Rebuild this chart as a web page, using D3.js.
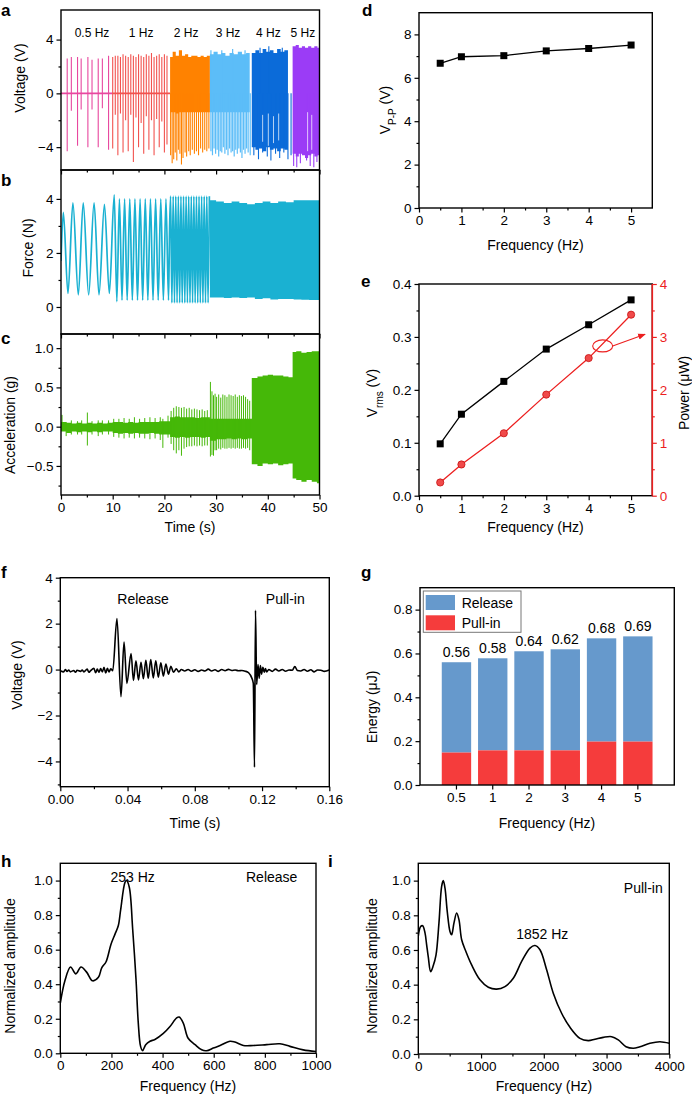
<!DOCTYPE html>
<html>
<head>
<meta charset="utf-8">
<script src="https://cdn.jsdelivr.net/npm/d3@7"></script>
<style>
  body { margin: 0; background: #fff; }
</style>
</head>
<body>
<div id="chart"></div>
<script>
const font = '"Liberation Sans", Arial, Helvetica, sans-serif'

// ---- a: voltage vs time, one colour per drive frequency ----
const freqLabels = ['0.5 Hz', '1 Hz', '2 Hz', '3 Hz', '4 Hz', '5 Hz']
const freqLabelTimes = [6.0, 15.5, 24.2, 32.3, 40.1, 46.8]
const segColors = ['#e8489f', '#f2534f', '#ff8200', '#5cbdf8', '#0b6bd9', '#9b3cf6']
const zeroLines = [[0, 9.9], [9.9, 21.1]]
// spikes: [t, top, bottom]
const voltSpikes05 = [[1.2, 2.6, -4.3], [2.0, 2.7, -1.3], [3.2, 2.7, -3.9], [3.9, 2.6, -1.2], [5.2, 2.7, -4.0],
  [6.0, 2.5, -1.2], [7.2, 2.6, -4.0], [8.0, 2.6, -1.1], [9.2, 2.8, -4.2]]
const voltSpikes1 = [[10.0, 2.7, -4.1], [10.5, 2.8, -1.6], [11.0, 2.8, -4.6], [11.5, 2.7, -1.5], [12.0, 2.9, -4.4],
  [12.5, 2.8, -2.0], [13.0, 2.7, -4.3], [13.5, 2.9, -1.6], [14.0, 2.8, -5.1], [14.5, 2.7, -1.8], [15.0, 2.9, -4.0],
  [15.5, 2.8, -2.2], [16.0, 2.7, -4.5], [16.5, 2.9, -1.7], [17.0, 2.8, -4.2], [17.5, 3.0, -2.0], [18.0, 2.7, -4.6],
  [18.5, 2.8, -1.9], [19.0, 2.9, -4.0], [19.5, 2.7, -2.1], [20.0, 2.9, -4.4], [20.5, 2.8, -3.8]]
// dense segments: band [t, top, bottom] plus spikes reaching past it
const voltBand2 = [[21.1, 2.7, -1.4], [21.6, 3.1, -1.4], [22.2, 2.8, -1.5], [22.8, 3.2, -1.4], [23.4, 2.8, -1.4],
  [24.0, 2.9, -1.4], [24.6, 2.7, -1.4], [25.2, 2.8, -1.4], [25.8, 2.8, -1.4], [26.4, 2.7, -1.4], [27.0, 2.8, -1.4],
  [27.6, 2.7, -1.4], [28.2, 2.8, -1.4], [28.8, 2.8, -1.4]]
const voltSpikes2 = [[21.2, 0, -4.6], [21.5, 0, -5.2], [21.8, 0, -4.9], [22.1, 0, -4.4], [22.4, 0, -5.0], [22.7, 0, -4.2],
  [23.0, 0, -4.5], [23.3, 0, -5.3], [23.6, 0, -4.8], [24.0, 0, -4.4], [24.3, 0, -4.7], [24.7, 0, -4.3], [25.0, 0, -4.6],
  [25.4, 0, -4.2], [25.8, 0, -4.5], [26.2, 0, -4.3], [26.6, 0, -4.6], [27.0, 0, -4.1], [27.4, 0, -4.4], [27.8, 0, -4.2],
  [28.2, 0, -4.3], [28.6, 0, -4.1]]
const voltBand3 = [[28.8, 2.9, -1.4], [29.5, 3.1, -1.4], [30.3, 2.9, -1.4], [31.0, 3.0, -1.4], [31.8, 2.8, -1.4],
  [32.6, 3.0, -1.4], [33.4, 2.9, -1.4], [34.2, 3.1, -1.4], [35.0, 2.9, -1.4], [35.8, 3.0, -1.4], [36.5, 2.9, -1.4]]
const voltSpikes3 = [[29.0, 3.2, -4.3], [29.3, 0, -4.6], [29.6, 0, -4.1], [29.9, 0, -4.5], [30.2, 0, -4.2],
  [30.5, 0, -4.7], [30.8, 0, -4.3], [31.1, 3.2, -4.4], [31.4, 0, -4.0], [31.7, 0, -4.5], [32.0, 0, -4.2],
  [32.3, 0, -4.6], [32.6, 0, -4.1], [32.9, 0, -4.4], [33.2, 3.3, -4.3], [33.5, 0, -4.7], [33.8, 0, -4.2],
  [34.1, 0, -4.5], [34.4, 0, -4.1], [34.7, 0, -4.4], [35.0, 0, -4.8], [35.3, 0, -4.2], [35.6, 3.2, -4.5],
  [35.9, 0, -4.1], [36.2, 0, -4.4], [36.6, 0, -4.6]]
const voltBand4 = [[36.9, 3.0, -4.0], [37.6, 3.2, -4.2], [38.3, 3.0, -4.1], [39.0, 3.3, -4.3], [39.7, 3.1, -4.0],
  [40.4, 3.2, -4.2], [41.1, 3.0, -4.1], [41.8, 3.3, -4.3], [42.5, 3.1, -4.1], [43.2, 3.2, -4.2], [43.9, 3.1, -4.3]]
const voltSpikes4 = [[37.3, 0, -4.6], [38.2, 0, -4.9], [38.5, 3.4, 0], [39.0, 0, -4.4], [39.9, 0, -4.7],
  [40.2, 3.5, 0], [40.6, 0, -5.0], [41.5, 0, -4.5], [42.3, 0, -4.8], [42.8, 3.4, 0], [43.1, 0, -4.4],
  [43.9, 0, -4.9], [44.5, 0, -4.6]]
const voltGaps4 = [[39.0, -1.6, -3.6], [40.1, -1.5, -3.9], [41.1, -1.7, -3.7], [42.1, -1.5, -3.5]]
const voltBand5 = [[44.8, 3.5, -4.5], [45.4, 3.6, -4.7], [46.0, 3.4, -4.5], [46.6, 3.5, -4.6], [47.2, 3.4, -4.8],
  [47.8, 3.5, -4.6], [48.4, 3.4, -4.5], [49.0, 3.5, -4.7], [49.6, 3.4, -4.6], [50, 3.4, -4.6]]
const voltSpikes5 = [[45.0, 0, -5.4], [45.6, 0, -5.5], [46.3, 0, -5.2], [47.5, 0, -5.0], [48.2, 0, -5.4],
  [48.9, 0, -5.5], [49.5, 0, -5.1]]
const voltGaps5 = [[47.7, -1.4, -4.3], [48.5, -1.6, -4.2]]

// ---- b: force extrema (t, N) up to 2 Hz, then a band ----
const forceLow = [[0, 1.7], [0.45, 3.5], [1.35, 0.5], [2.3, 3.85], [3.35, 0.45], [4.3, 3.85], [5.35, 0.45],
  [6.4, 3.85], [7.35, 0.45], [8.4, 3.8], [9.35, 0.5], [10.3, 4.15], [10.8, 0.2], [11.3, 4.0], [11.8, 0.25],
  [12.3, 4.0], [12.8, 0.25], [13.3, 4.0], [13.8, 0.25], [14.3, 4.0], [14.8, 0.25], [15.3, 4.0], [15.8, 0.25],
  [16.3, 4.0], [16.8, 0.25], [17.3, 4.0], [17.8, 0.25], [18.3, 4.0], [18.8, 0.25], [19.3, 4.0], [19.8, 0.25],
  [20.3, 4.0], [20.8, 0.25]]
const force2Hz = [[21.0, 2.9], [21.2, 4.1], [21.45, 0.15], [21.7, 4.1], [21.95, 0.15], [22.2, 4.1], [22.45, 0.15],
  [22.7, 4.1], [22.95, 0.15], [23.2, 4.1], [23.45, 0.15], [23.7, 4.1], [23.95, 0.15], [24.2, 4.1], [24.45, 0.15],
  [24.7, 4.1], [24.95, 0.15], [25.2, 4.1], [25.45, 0.15], [25.7, 4.1], [25.95, 0.15], [26.2, 4.1], [26.45, 0.15],
  [26.7, 4.1], [26.95, 0.15], [27.2, 4.1], [27.45, 0.15], [27.7, 4.1], [27.95, 0.15], [28.2, 4.1], [28.45, 0.15],
  [28.7, 4.1]]
const forceBand = [[28.8, 3.95, 0.35], [30.0, 3.9, 0.35], [31.5, 3.85, 0.33], [33.0, 3.9, 0.35], [34.5, 3.85, 0.33],
  [36.0, 3.8, 0.35], [37.5, 3.85, 0.3], [39.0, 3.9, 0.32], [40.5, 3.85, 0.28], [42.0, 3.9, 0.3], [43.5, 3.88, 0.3],
  [45.0, 3.95, 0.28], [46.5, 3.95, 0.27], [48.0, 3.95, 0.26], [50, 3.95, 0.25]]

// ---- c: acceleration band [t, top, bottom] and spikes ----
const accelBand = [[0, 0.06, -0.06], [1, 0.05, -0.08], [2, 0.04, -0.06], [3, 0.05, -0.07], [4, 0.04, -0.06],
  [5, 0.05, -0.07], [6, 0.04, -0.06], [7, 0.05, -0.07], [8, 0.04, -0.06], [9, 0.05, -0.06], [10, 0.06, -0.08],
  [11, 0.06, -0.09], [12, 0.05, -0.08], [13, 0.06, -0.09], [14, 0.05, -0.08], [15, 0.06, -0.09], [16, 0.06, -0.09],
  [17, 0.06, -0.08], [18, 0.06, -0.09], [19, 0.07, -0.1], [20, 0.07, -0.1], [21.1, 0.12, -0.13], [22, 0.13, -0.14],
  [23, 0.12, -0.13], [24, 0.12, -0.14], [25, 0.12, -0.13], [26, 0.11, -0.13], [27, 0.12, -0.14], [28, 0.12, -0.13],
  [28.8, 0.1, -0.18], [30, 0.1, -0.16], [31, 0.1, -0.16], [32, 0.1, -0.15], [33, 0.1, -0.16], [34, 0.1, -0.15],
  [35, 0.1, -0.16], [36, 0.1, -0.15], [36.9, 0.62, -0.48], [38, 0.64, -0.5], [39, 0.65, -0.47], [40, 0.66, -0.48],
  [41, 0.65, -0.47], [42, 0.65, -0.49], [43, 0.64, -0.48], [44, 0.63, -0.47], [44.8, 0.95, -0.66],
  [45.5, 0.96, -0.68], [46.5, 0.94, -0.7], [47.5, 0.95, -0.68], [48.5, 0.96, -0.7], [49.5, 0.96, -0.72],
  [50, 0.96, -0.72]]
const accelSpikes = [[0.2, 0.15, -0.05], [1.0, 0.06, -0.12], [2.0, 0.08, -0.1], [3.2, 0.07, -0.1], [4.0, 0.08, -0.1],
  [5.1, 0.18, -0.24], [6.0, 0.07, -0.1], [7.2, 0.08, -0.12], [8.0, 0.08, -0.1], [9.2, 0.08, -0.1],
  [10.2, 0.1, -0.13], [11.2, 0.1, -0.14], [12.2, 0.11, -0.15], [13.2, 0.1, -0.14], [14.2, 0.12, -0.15],
  [15.2, 0.1, -0.14], [16.2, 0.11, -0.15], [17.2, 0.12, -0.16], [18.2, 0.11, -0.15], [19.2, 0.12, -0.17],
  [19.7, 0.1, -0.27], [20.7, 0.14, -0.14], [21.3, 0.2, -0.22], [21.8, 0.24, -0.3], [22.3, 0.26, -0.34],
  [22.8, 0.25, -0.3], [23.3, 0.24, -0.37], [23.8, 0.25, -0.28], [24.3, 0.23, -0.26], [24.8, 0.24, -0.25],
  [25.3, 0.22, -0.25], [25.8, 0.23, -0.24], [26.3, 0.22, -0.25], [26.8, 0.21, -0.24], [27.3, 0.22, -0.25],
  [27.8, 0.2, -0.24], [28.3, 0.21, -0.24], [28.9, 0.57, -0.38], [29.2, 0.45, -0.36], [29.5, 0.4, -0.37],
  [29.8, 0.42, -0.3], [30.1, 0.38, -0.3], [30.5, 0.41, -0.28], [30.9, 0.37, -0.29], [31.3, 0.41, -0.27],
  [31.7, 0.4, -0.28], [32.1, 0.38, -0.28], [32.5, 0.41, -0.27], [32.9, 0.4, -0.28], [33.3, 0.39, -0.27],
  [33.7, 0.41, -0.28], [34.1, 0.38, -0.27], [34.5, 0.4, -0.28], [34.9, 0.39, -0.28], [35.3, 0.4, -0.27],
  [35.7, 0.38, -0.28], [36.1, 0.35, -0.27], [36.5, 0.33, -0.3]]

// ---- d, e ----
const freqs = [0.5, 1, 2, 3, 4, 5]
const vpp = [6.67, 6.97, 7.02, 7.24, 7.35, 7.51]
const vrms = [0.098, 0.154, 0.216, 0.277, 0.323, 0.370]
const power = [0.25, 0.59, 1.18, 1.91, 2.6, 3.42]

// ---- f: single cycle voltage (s, V) ----
const cycleTrace = [[0, -0.05], [0.002, -0.1], [0.003, 0.0], [0.004, -0.08], [0.005, -0.02], [0.006, -0.1],
  [0.008, -0.04], [0.009, -0.12], [0.010, -0.03], [0.012, -0.08], [0.013, -0.02], [0.014, -0.1], [0.016, 0.02],
  [0.017, -0.12], [0.018, -0.05], [0.020, 0.05], [0.021, -0.14], [0.022, 0.02], [0.023, -0.12], [0.024, 0.04],
  [0.025, -0.1], [0.026, 0.1], [0.027, -0.15], [0.028, 0.05], [0.029, -0.1], [0.030, 0.03], [0.0312, -0.05],
  [0.0337, 2.22], [0.0361, -1.18], [0.0379, 1.2], [0.0396, -0.6], [0.0421, 0.7], [0.0435, -0.47], [0.045, 0.38],
  [0.0465, -0.45], [0.048, 0.32], [0.0494, -0.4], [0.0509, 0.4], [0.0523, -0.38], [0.0538, 0.44], [0.0553, -0.36],
  [0.0568, 0.38], [0.0583, -0.33], [0.0598, 0.3], [0.0613, -0.28], [0.0628, 0.24], [0.0643, -0.2], [0.0658, 0.14],
  [0.0673, -0.12], [0.069, 0.03], [0.0705, -0.1], [0.072, 0.0], [0.074, -0.06], [0.076, 0.0], [0.078, -0.07],
  [0.080, -0.01], [0.082, -0.08], [0.084, -0.02], [0.086, -0.06], [0.088, 0.02], [0.090, -0.06], [0.092, -0.01],
  [0.094, -0.08], [0.096, 0.0], [0.098, -0.05], [0.100, 0.01], [0.102, -0.04], [0.104, -0.02], [0.106, -0.05],
  [0.108, -0.04], [0.110, -0.07], [0.112, -0.14], [0.1138, -0.35], [0.1148, -0.6], [0.1155, -4.25], [0.1161, 2.58],
  [0.1168, -0.65], [0.1176, 0.22], [0.1183, -0.38], [0.119, 0.18], [0.1197, -0.2], [0.1205, 0.1], [0.1213, -0.12],
  [0.122, 0.04], [0.1228, -0.1], [0.124, 0.0], [0.126, -0.08], [0.128, 0.02], [0.130, -0.06], [0.132, 0.0],
  [0.134, -0.07], [0.136, -0.02], [0.138, -0.03], [0.1395, 0.13], [0.141, -0.04], [0.143, -0.06], [0.145, 0.0],
  [0.147, -0.07], [0.149, -0.01], [0.151, -0.1], [0.153, -0.02], [0.155, -0.03], [0.157, -0.08], [0.16, -0.02]]

// ---- g: energy per cycle ----
const freqCats = ['0.5', '1', '2', '3', '4', '5']
const energyTotal = [0.56, 0.578, 0.61, 0.619, 0.669, 0.678]
const energyPull = [0.148, 0.158, 0.158, 0.158, 0.198, 0.198]
const energyLabels = ['0.56', '0.58', '0.64', '0.62', '0.68', '0.69']

// ---- h, i: spectra (Hz, normalized) ----
const releaseSpectrum = [[0, 0.29], [18, 0.42], [40, 0.5], [61, 0.46], [81, 0.5], [103, 0.47], [126, 0.42],
  [149, 0.44], [162, 0.495], [179, 0.53], [198, 0.63], [214, 0.69], [227, 0.74], [236, 0.83], [253, 0.99],
  [259, 1.0], [270, 0.96], [283, 0.72], [296, 0.43], [305, 0.175], [314, 0.04], [322, 0.015], [334, 0.05],
  [351, 0.07], [370, 0.08], [403, 0.115], [429, 0.155], [455, 0.205], [465, 0.21], [481, 0.175], [500, 0.087],
  [527, 0.05], [553, 0.02], [572, 0.015], [598, 0.03], [625, 0.045], [664, 0.07], [683, 0.065], [716, 0.045],
  [755, 0.045], [807, 0.05], [859, 0.055], [898, 0.04], [950, 0.02], [1000, 0.01]]
const pullSpectrum = [[0, 0.68], [37, 0.735], [69, 0.74], [106, 0.7], [133, 0.63], [159, 0.56], [197, 0.475],
  [239, 0.51], [282, 0.57], [329, 0.755], [372, 0.967], [398, 1.0], [425, 0.958], [462, 0.82], [505, 0.707],
  [531, 0.688], [568, 0.755], [611, 0.813], [648, 0.775], [691, 0.659], [760, 0.59], [850, 0.514], [983, 0.428],
  [1116, 0.385], [1248, 0.374], [1381, 0.389], [1514, 0.437], [1647, 0.534], [1780, 0.611], [1859, 0.626],
  [1939, 0.601], [2045, 0.486], [2151, 0.351], [2284, 0.235], [2417, 0.154], [2576, 0.09], [2709, 0.077],
  [2815, 0.085], [2948, 0.096], [3081, 0.1], [3187, 0.081], [3310, 0.042], [3426, 0.033], [3533, 0.042],
  [3692, 0.062], [3851, 0.071], [4000, 0.062]]

const svg = d3.select('#chart').append('svg')
  .attr('width', 692).attr('height', 1101)
  .style('font-family', font)

const frame = (x, y, color = '#000') => svg.append('rect')
  .attr('x', x.range()[0]).attr('y', y.range()[1])
  .attr('width', x.range()[1] - x.range()[0]).attr('height', y.range()[0] - y.range()[1])
  .attr('fill', 'none').attr('stroke', color).attr('stroke-width', 1.4)

let clipCount = 0
const clipped = (x, y) => {
  const id = `clip-${clipCount++}`
  svg.append('clipPath').attr('id', id).append('rect')
    .attr('x', x.range()[0]).attr('y', y.range()[1])
    .attr('width', x.range()[1] - x.range()[0]).attr('height', y.range()[0] - y.range()[1])
  return svg.append('g').attr('clip-path', `url(#${id})`)
}

const axis = (gen, scale, at, majors, minors, fmt, color = '#000') => {
  const g = svg.append('g').attr('transform', at)
  if (minors) {
    g.append('g').call(gen(scale).tickValues(minors).tickSize(2.5).tickSizeOuter(0).tickFormat(() => ''))
  }
  g.append('g').call(gen(scale).tickValues(majors).tickSize(4.5).tickSizeOuter(0).tickPadding(3).tickFormat(fmt))
  g.selectAll('.domain').remove()
  g.selectAll('line').attr('stroke', color).attr('stroke-width', 1.2)
  g.selectAll('text').attr('fill', color).style('font-size', '13.5px').style('font-family', font)
  return g
}
const bottomAxis = (x, y, majors, minors, fmt) =>
  axis(d3.axisBottom, x, `translate(0,${y.range()[0]})`, majors, minors, fmt)
const leftAxis = (x, y, majors, minors, fmt) =>
  axis(d3.axisLeft, y, `translate(${x.range()[0]},0)`, majors, minors, fmt)

const xTitle = (text, cx, y) => svg.append('text')
  .attr('x', cx).attr('y', y).attr('text-anchor', 'middle')
  .style('font-size', '14px').style('font-weight', 'normal').text(text)
const yTitle = (cx, cy) => svg.append('text')
  .attr('transform', `translate(${cx},${cy}) rotate(-90)`)
  .attr('text-anchor', 'middle').attr('dy', '0.35em')
  .style('font-size', '14px').style('font-weight', 'normal')
const letter = (t, x, y) => svg.append('text')
  .attr('x', x).attr('y', y).style('font-size', '17px').style('font-weight', 'bold').text(t)
const note = (t, x, y, size = 14) => svg.append('text')
  .attr('x', x).attr('y', y).attr('text-anchor', 'middle').style('font-size', `${size}px`).text(t)

const spikes = (g, list, x, y, color, width = 1.1) => g.append('g').selectAll('line').data(list).join('line')
  .attr('x1', d => x(d[0])).attr('x2', d => x(d[0]))
  .attr('y1', d => y(d[1])).attr('y2', d => y(d[2]))
  .attr('stroke', color).attr('stroke-width', width)
const band = (g, list, x, y, color) => g.append('path').datum(list)
  .attr('fill', color)
  .attr('d', d3.area().curve(d3.curveStepAfter)
    .x(d => x(d[0])).y0(d => y(d[2])).y1(d => y(d[1])))

// ================= a, b, c =================
const tX = d3.scaleLinear().domain([0, 50]).range([61, 319.5])
const timeMajor = [0, 10, 20, 30, 40, 50]
const timeMinor = [5, 15, 25, 35, 45]
const aY = d3.scaleLinear().domain([-5.7, 6.2]).range([170, 10])
const bY = d3.scaleLinear().domain([-1, 5.07]).range([334, 170])
const cY = d3.scaleLinear().domain([-0.87, 1.18]).range([495, 334])

const aG = clipped(tX, aY)
zeroLines.forEach((z, i) => {
  aG.append('line').attr('x1', tX(z[0])).attr('x2', tX(z[1]))
    .attr('y1', aY(0)).attr('y2', aY(0))
    .attr('stroke', segColors[i]).attr('stroke-width', 1.6)
})
spikes(aG, voltSpikes05, tX, aY, segColors[0])
spikes(aG, voltSpikes1, tX, aY, segColors[1])
band(aG, voltBand2, tX, aY, segColors[2])
spikes(aG, voltSpikes2, tX, aY, segColors[2])
band(aG, voltBand3, tX, aY, segColors[3])
spikes(aG, voltSpikes3, tX, aY, segColors[3], 1.2)
band(aG, voltBand4, tX, aY, segColors[4])
spikes(aG, voltSpikes4, tX, aY, segColors[4])
spikes(aG, voltGaps4, tX, aY, '#fff', 0.7)
band(aG, voltBand5, tX, aY, segColors[5])
spikes(aG, voltSpikes5, tX, aY, segColors[5])
spikes(aG, voltGaps5, tX, aY, '#fff', 0.7)
freqLabels.forEach((l, i) => note(l, tX(freqLabelTimes[i]), 37, 12))

const bG = clipped(tX, bY)
bG.append('path').datum(forceLow.concat(force2Hz))
  .attr('fill', 'none').attr('stroke', '#1ab1d2').attr('stroke-width', 1.7)
  .attr('d', d3.line().curve(d3.curveMonotoneX).x(d => tX(d[0])).y(d => bY(d[1])))
band(bG, forceBand, tX, bY, '#1ab1d2')

const cG = clipped(tX, cY)
band(cG, accelBand, tX, cY, '#45b808')
spikes(cG, accelSpikes, tX, cY, '#45b808', 1)

;[[aY, [-4, 0, 4], [-2, 2], d3.format('d')], [bY, [0, 2, 4], [1, 3], d3.format('d')],
  [cY, [-0.5, 0, 0.5, 1], [-0.75, -0.25, 0.25, 0.75], d3.format('.1f')]].forEach(([y, maj, min, f], i) => {
  leftAxis(tX, y, maj, min, f)
  bottomAxis(tX, y, timeMajor, timeMinor, i === 2 ? d3.format('d') : () => '')
  frame(tX, y)
})
yTitle(20, 78).text('Voltage (V)')
yTitle(28, 248).text('Force (N)')
yTitle(10, 425).text('Acceleration (g)')
xTitle('Time (s)', 190, 532)
letter('a', 1, 16)
letter('b', 1, 186)
letter('c', 1, 344)

// ================= d =================
const fX = d3.scaleLinear().domain([0, 5.5]).range([419, 652.3])
const freqMajor = [0, 1, 2, 3, 4, 5]
const freqMinor = [0.5, 1.5, 2.5, 3.5, 4.5]
const dY = d3.scaleLinear().domain([0, 9]).range([208, 12.7])
const lineOf = (x, y, vals) => d3.line().x((d, i) => x(freqs[i])).y(d => y(d))(vals)

svg.append('path').attr('d', lineOf(fX, dY, vpp))
  .attr('fill', 'none').attr('stroke', '#000').attr('stroke-width', 1.3)
svg.append('g').selectAll('rect').data(vpp).join('rect')
  .attr('x', (d, i) => fX(freqs[i]) - 3.5).attr('y', d => dY(d) - 3.5)
  .attr('width', 7).attr('height', 7).attr('fill', '#000')
leftAxis(fX, dY, [0, 2, 4, 6, 8], [1, 3, 5, 7], d3.format('d'))
bottomAxis(fX, dY, freqMajor, freqMinor, d3.format('d'))
frame(fX, dY)
const dLabel = yTitle(385, 110)
dLabel.append('tspan').text('V')
dLabel.append('tspan').attr('baseline-shift', 'sub').style('font-size', '10px').text('P-P')
dLabel.append('tspan').text(' (V)')
xTitle('Frequency (Hz)', 535.5, 250)
letter('d', 362, 16)

// ================= e =================
const eY = d3.scaleLinear().domain([0, 0.4]).range([495.7, 284])
const eYR = d3.scaleLinear().domain([0, 4]).range([495.7, 284])
const red = '#ec1f1f'

svg.append('path').attr('d', lineOf(fX, eY, vrms))
  .attr('fill', 'none').attr('stroke', '#000').attr('stroke-width', 1.3)
svg.append('g').selectAll('rect').data(vrms).join('rect')
  .attr('x', (d, i) => fX(freqs[i]) - 3.5).attr('y', d => eY(d) - 3.5)
  .attr('width', 7).attr('height', 7).attr('fill', '#000')
svg.append('path').attr('d', lineOf(fX, eYR, power))
  .attr('fill', 'none').attr('stroke', red).attr('stroke-width', 1.3)
svg.append('g').selectAll('circle').data(power).join('circle')
  .attr('cx', (d, i) => fX(freqs[i])).attr('cy', d => eYR(d)).attr('r', 3.6)
  .attr('fill', '#f04a4a').attr('stroke', '#c81010').attr('stroke-width', 0.8)

// ellipse + arrow pointing to the right axis
const defs = svg.append('defs')
defs.append('marker').attr('id', 'arrow').attr('viewBox', '0 0 10 10')
  .attr('refX', 9).attr('refY', 5).attr('markerWidth', 7).attr('markerHeight', 7)
  .attr('orient', 'auto-start-reverse')
  .append('path').attr('d', 'M0,1 L10,5 L0,9 z').attr('fill', red)
const ellX = fX(4.33)
const ellY = eYR(2.83)
svg.append('ellipse').attr('cx', ellX).attr('cy', ellY).attr('rx', 10).attr('ry', 6)
  .attr('fill', 'none').attr('stroke', red).attr('stroke-width', 1.1)
svg.append('line').attr('x1', ellX + 10).attr('y1', ellY)
  .attr('x2', fX(5.33)).attr('y2', eYR(3.05))
  .attr('stroke', red).attr('stroke-width', 1.1).attr('marker-end', 'url(#arrow)')

leftAxis(fX, eY, [0, 0.1, 0.2, 0.3, 0.4], [0.05, 0.15, 0.25, 0.35], d3.format('.1f'))
bottomAxis(fX, eY, freqMajor, freqMinor, d3.format('d'))
frame(fX, eY)
axis(d3.axisRight, eYR, `translate(${fX.range()[1]},0)`, [0, 1, 2, 3, 4], [0.5, 1.5, 2.5, 3.5], d3.format('d'), red)
svg.append('line').attr('x1', fX.range()[1]).attr('x2', fX.range()[1])
  .attr('y1', 284).attr('y2', 495.7).attr('stroke', red).attr('stroke-width', 1.6)
const eLabel = yTitle(372, 393)
eLabel.append('tspan').text('V')
eLabel.append('tspan').attr('baseline-shift', 'sub').style('font-size', '10px').text('rms')
eLabel.append('tspan').text(' (V)')
yTitle(684, 393).text('Power (μW)')
xTitle('Frequency (Hz)', 535.5, 532)
letter('e', 361, 287)

// ================= f =================
const sX = d3.scaleLinear().domain([0, 0.16]).range([60.3, 329.3])
const fY = d3.scaleLinear().domain([-5.1, 4]).range([786.7, 577.7])
const fG = clipped(sX, fY)
fG.append('path').datum(cycleTrace)
  .attr('fill', 'none').attr('stroke', '#000').attr('stroke-width', 1.6)
  .attr('d', d3.line().curve(d3.curveMonotoneX).x(d => sX(d[0])).y(d => fY(d[1])))
leftAxis(sX, fY, [-4, -2, 0, 2, 4], [-5, -3, -1, 1, 3], d3.format('d'))
bottomAxis(sX, fY, [0, 0.04, 0.08, 0.12, 0.16], [0.02, 0.06, 0.1, 0.14], d3.format('.2f'))
frame(sX, fY)
note('Release', 143, 604)
note('Pull-in', 285.3, 604)
yTitle(17, 675).text('Voltage (V)')
xTitle('Time (s)', 195, 828)
letter('f', 1, 578)

// ================= g =================
const gX = d3.scaleBand().domain(freqCats).range([420, 674.3]).paddingInner(0.19).paddingOuter(0.6)
const gY = d3.scaleLinear().domain([0, 0.9]).range([785, 587.7])
const releaseBlue = '#6699cc'
const pullRed = '#f53c3c'
svg.append('g').selectAll('rect').data(energyTotal).join('rect')
  .attr('x', (d, i) => gX(freqCats[i])).attr('width', gX.bandwidth())
  .attr('y', d => gY(d)).attr('height', (d, i) => gY(energyPull[i]) - gY(d))
  .attr('fill', releaseBlue)
svg.append('g').selectAll('rect').data(energyPull).join('rect')
  .attr('x', (d, i) => gX(freqCats[i])).attr('width', gX.bandwidth())
  .attr('y', d => gY(d)).attr('height', d => gY(0) - gY(d))
  .attr('fill', pullRed)
svg.append('g').selectAll('text').data(energyLabels).join('text')
  .attr('x', (d, i) => gX(freqCats[i]) + gX.bandwidth() / 2)
  .attr('y', (d, i) => gY(energyTotal[i]) - 5)
  .attr('text-anchor', 'middle').style('font-size', '14px').text(d => d)
leftAxis(gX, gY, [0, 0.2, 0.4, 0.6, 0.8], [0.1, 0.3, 0.5, 0.7], d3.format('.1f'))
axis(d3.axisBottom, gX, `translate(0,${gY.range()[0]})`, freqCats, null, d => d)
frame(gX, gY)

const legend = svg.append('g')
legend.append('rect').attr('x', 423.3).attr('y', 591).attr('width', 97.7).attr('height', 41.3)
  .attr('fill', '#fff').attr('stroke', '#777').attr('stroke-width', 1)
;[['Release', releaseBlue], ['Pull-in', pullRed]].forEach(([name, c], i) => {
  legend.append('rect').attr('x', 425.7).attr('y', 595 + i * 20.3).attr('width', 29.3).attr('height', 15)
    .attr('fill', c)
  legend.append('text').attr('x', 461.7).attr('y', 608 + i * 20)
    .style('font-size', '14px').text(name)
})
yTitle(372, 707).text('Energy (μJ)')
xTitle('Frequency (Hz)', 547, 828)
letter('g', 361, 578)

// ================= h, i =================
const spectrum = (data, x, y, majors, minors) => {
  const g = clipped(x, y)
  g.append('path').datum(data)
    .attr('fill', 'none').attr('stroke', '#000').attr('stroke-width', 1.6)
    .attr('d', d3.line().curve(d3.curveCatmullRom.alpha(0.5)).x(d => x(d[0])).y(d => y(d[1])))
  leftAxis(x, y, [0, 0.2, 0.4, 0.6, 0.8, 1.0], [0.1, 0.3, 0.5, 0.7, 0.9], d3.format('.1f'))
  bottomAxis(x, y, majors, minors, d3.format('d'))
  frame(x, y)
}
const hX = d3.scaleLinear().domain([0, 1000]).range([60.3, 316])
const hY = d3.scaleLinear().domain([0, 1.1]).range([1053.3, 863.3])
spectrum(releaseSpectrum, hX, hY, [0, 200, 400, 600, 800, 1000], [100, 300, 500, 700, 900])
note('253 Hz', 132.7, 882)
note('Release', 271.7, 882)
yTitle(10, 966).text('Normalized amplitude')
xTitle('Frequency (Hz)', 188, 1091)
letter('h', 1, 867)

const iX = d3.scaleLinear().domain([0, 4000]).range([418.3, 669.3])
const iY = d3.scaleLinear().domain([0, 1.1]).range([1054, 863.3])
spectrum(pullSpectrum, iX, iY, [0, 1000, 2000, 3000, 4000], [500, 1500, 2500, 3500])
note('Pull-in', 643.3, 893)
note('1852 Hz', 542.3, 939)
yTitle(372, 966).text('Normalized amplitude')
xTitle('Frequency (Hz)', 544, 1091)
letter('i', 328, 867)
</script>
</body>
</html>
